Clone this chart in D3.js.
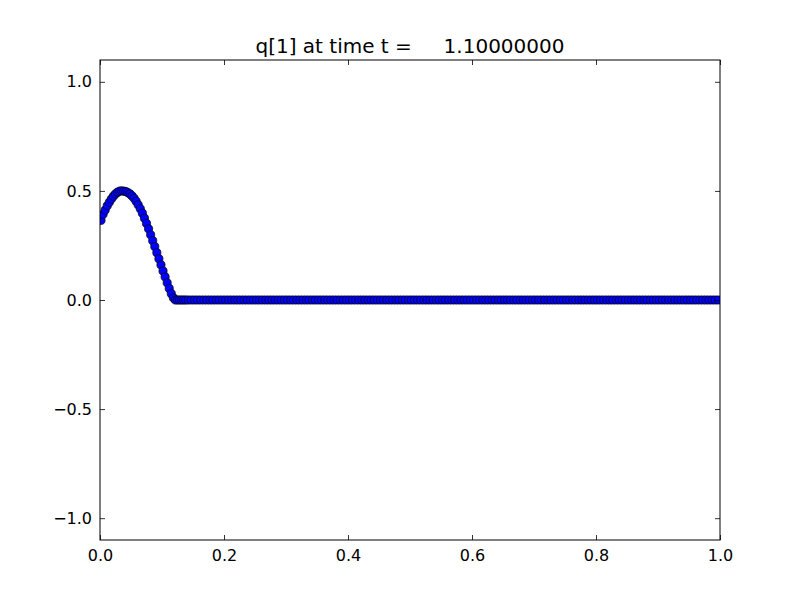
<!DOCTYPE html>
<html>
<head>
<meta charset="utf-8">
<script src="https://cdn.jsdelivr.net/npm/d3@7"></script>
<style>
  body { margin: 0; background: #fff; }
  text { font-family: "DejaVu Sans", sans-serif; }
</style>
</head>
<body>
<svg id="plot" width="800" height="600"></svg>
<script>
// refined patch near the pulse (dx = 1/300 on [0, 0.14]) and coarse cells (dx = 0.005 on [0.14, 1])
var fineDx = 1 / 300, fineCells = 42;
var coarseDx = 0.005, coarseStart = 0.14, coarseCells = 172;

// q[1] on the fine cells (remaining fine cells are zero)
var fineValues = [0.365, 0.393, 0.412, 0.432, 0.448, 0.463, 0.476, 0.486, 0.494, 0.499,
                  0.50, 0.499, 0.497, 0.492, 0.486, 0.477, 0.466, 0.452, 0.436, 0.418,
                  0.398, 0.375, 0.351, 0.326, 0.299, 0.272, 0.245, 0.217, 0.189, 0.161,
                  0.133, 0.106, 0.079, 0.053, 0.029, 0.01];
// coarse cells are all at q = 0
var coarseValue = 0.0;

var xTicks = [0.0, 0.2, 0.4, 0.6, 0.8, 1.0];
var yTicks = [-1.0, -0.5, 0.0, 0.5, 1.0];
var titleText = "q[1] at time t =     1.10000000";

var data = d3.range(fineCells).map(function(i) {
    return {x: fineDx / 2 + i * fineDx, q: i < fineValues.length ? fineValues[i] : 0.0};
}).concat(d3.range(coarseCells).map(function(i) {
    return {x: coarseStart + coarseDx / 2 + i * coarseDx, q: coarseValue};
}));

var svg = d3.select("#plot"),
    margin = {top: 60, right: 80, bottom: 60, left: 100},
    width = +svg.attr("width") - margin.left - margin.right,
    height = +svg.attr("height") - margin.top - margin.bottom,
    g = svg.append("g").attr("transform", "translate(" + margin.left + "," + margin.top + ")");

var x = d3.scaleLinear().domain([0, 1]).range([0, width]);
var y = d3.scaleLinear().domain([-1.1, 1.1]).range([height, 0]);

var fmt = function(d) { return d3.format(".1f")(d).replace("-", "\u2212"); };

g.append("clipPath").attr("id", "clip")
    .append("rect").attr("width", width).attr("height", height);

// points
g.append("g")
    .attr("clip-path", "url(#clip)")
    .selectAll("circle")
    .data(data)
    .enter().append("circle")
    .attr("cx", function(d) { return x(d.x); })
    .attr("cy", function(d) { return y(d.q); })
    .attr("r", 4.1)
    .attr("fill", "#0000ff")
    .attr("stroke", "#000")
    .attr("stroke-width", 0.7);

// ticks (inward, all four sides)
var tickLen = 5;
function styleAxis(sel) {
    sel.select(".domain").remove();
    sel.selectAll("line").attr("stroke", "#000").attr("stroke-width", 0.8);
    sel.selectAll("text").attr("fill", "#000").style("font-size", "16px");
}

g.append("g")
    .attr("transform", "translate(0," + height + ")")
    .call(d3.axisBottom(x).tickValues(xTicks).tickFormat(fmt).tickSizeInner(-tickLen).tickPadding(10))
    .call(styleAxis);

g.append("g")
    .call(d3.axisTop(x).tickValues(xTicks).tickFormat("").tickSizeInner(-tickLen))
    .call(styleAxis);

g.append("g")
    .call(d3.axisLeft(y).tickValues(yTicks).tickFormat(fmt).tickSizeInner(-tickLen).tickPadding(8))
    .call(styleAxis);

g.append("g")
    .attr("transform", "translate(" + width + ",0)")
    .call(d3.axisRight(y).tickValues(yTicks).tickFormat("").tickSizeInner(-tickLen))
    .call(styleAxis);

// frame
g.append("rect")
    .attr("width", width)
    .attr("height", height)
    .attr("fill", "none")
    .attr("stroke", "#000")
    .attr("stroke-width", 1);

// title
g.append("text")
    .attr("x", width / 2)
    .attr("y", -7)
    .attr("text-anchor", "middle")
    .style("font-size", "20px")
    .style("white-space", "pre")
    .attr("xml:space", "preserve")
    .text(titleText);
</script>
</body>
</html>
